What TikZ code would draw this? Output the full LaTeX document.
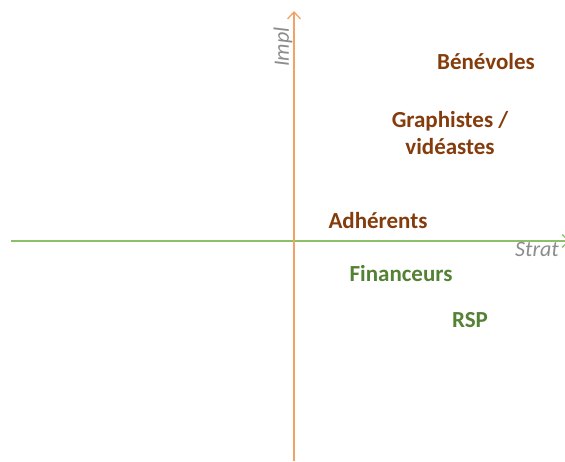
\documentclass[tikz,border=0pt]{standalone}
\usepackage{fontspec}
\setmainfont{Carlito}
\usetikzlibrary{arrows.meta}
\definecolor{brownT}{HTML}{843C0C}
\definecolor{greenT}{HTML}{548235}
\definecolor{axisG}{HTML}{8CC068}
\definecolor{axisO}{HTML}{F4A165}
\definecolor{grayT}{HTML}{8C8C8C}
\tikzset{
  lbl/.style={font=\fontsize{23}{27}\selectfont\bfseries, align=center, inner sep=0pt},
  brownlbl/.style={lbl, text=brownT},
  greenlbl/.style={lbl, text=greenT},
  axislbl/.style={font=\fontsize{22}{26}\selectfont\itshape, text=grayT, inner sep=0pt},
  axisline/.style={line width=1.3pt, -{Straight Barb[length=7pt,width=13pt,line width=1.3pt]}}
}
\begin{document}
\begin{tikzpicture}[x=1pt,y=1pt]
\useasboundingbox (0,0) rectangle (565,461);
\coordinate (hstart) at (11,220);
\coordinate (hend) at (570,220);
\coordinate (vstart) at (294,0);
\coordinate (vend) at (294,450);
\draw[axisline, axisG] (hstart) -- (hend);
\draw[axisline, axisO] (vstart) -- (vend);
\node[axislbl, rotate=90] (impl) at (283,414) {Impl};
\node[axislbl, anchor=west] (strat) at (515,212) {Strat};
\node[brownlbl] (benevoles) at (486,399) {Bénévoles};
\node[brownlbl] (graph) at (450,328) {Graphistes /\\vidéastes};
\node[brownlbl] (adh) at (378,240) {Adhérents};
\node[greenlbl] (fin) at (401,187) {Financeurs};
\node[greenlbl] (rsp) at (470,141) {RSP};
\end{tikzpicture}
\end{document}
